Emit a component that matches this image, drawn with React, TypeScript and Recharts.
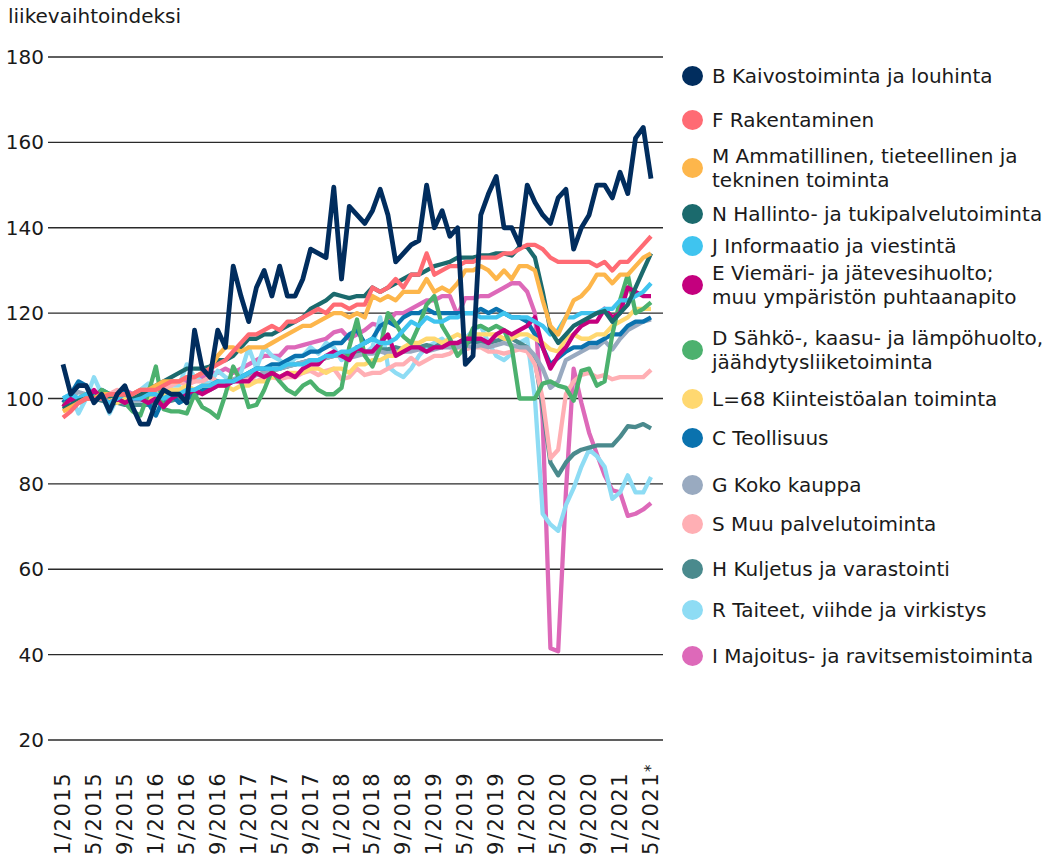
import { LineChart, Line, XAxis, YAxis, CartesianGrid } from "recharts";

const FONT = '"DejaVu Sans", sans-serif';

// month labels 1/2015 ... 5/2021
const MONTHS: string[] = [];
for (let y = 2015; y <= 2021; y++) {
  for (let m = 1; m <= 12; m++) {
    if (y === 2021 && m > 5) break;
    MONTHS.push(`${m}/${y}`);
  }
}

const Y_TICKS = [20, 40, 60, 80, 100, 120, 140, 160, 180];

// B Kaivostoiminta ja louhinta
const B = [108, 101, 103, 103, 99, 101, 97, 101, 103, 98, 94, 94, 99, 102, 101, 101, 99, 116, 107, 105, 116, 112, 131, 124, 118, 126, 130, 124, 131, 124, 124, 128, 135, 134, 133, 149.5, 128, 145, 143, 141, 144, 149, 143, 132, 134, 136, 137, 150, 140, 144, 138, 140, 108, 110, 143, 148, 152, 140, 140, 136, 150, 146, 143, 141, 147, 149, 135, 140, 143, 150, 150, 147, 153, 148, 161, 163.5, 151.5];
// F Rakentaminen
const F = [95.5, 97, 99, 100, 100, 100, 101, 101, 101, 101, 102, 102, 102, 103, 104, 104, 105, 105, 106, 107, 108, 109, 111, 113, 115, 115, 116, 117, 116, 118, 118, 119, 120, 121, 120, 122, 122, 121, 122, 122, 126, 125, 126, 128, 126, 129, 129, 134, 129, 130, 131, 131, 132, 132, 133, 133, 133, 134, 134, 135, 136, 136, 135, 133, 132, 132, 132, 132, 132, 131, 132, 130, 132, 132, 134, 136, 138];
// M Ammatillinen, tieteellinen ja tekninen toiminta
const M = [97, 98, 99, 100, 100, 101, 101, 101, 101, 101, 102, 102, 103, 104, 104, 104, 105, 105, 106, 107, 110, 112, 112, 111, 112, 112, 112, 113, 114, 115, 116, 117, 117, 118, 119, 120, 120, 119, 120, 119, 124, 123, 124, 123, 125, 125, 125, 128, 125, 126, 125, 127, 130, 130, 131, 130, 128, 130, 128, 131, 131, 130, 123, 117, 115, 119, 123, 124, 126, 129, 129, 127, 129, 129, 131, 133, 134];
// N Hallinto- ja tukipalvelutoiminta
const N = [97.5, 98.5, 99.5, 100, 100, 100.5, 100.5, 101, 101, 100.5, 101, 102, 103, 104, 105, 106, 107, 107, 107, 107.5, 109, 109, 110, 112, 114, 114, 115, 115, 116, 117, 118, 119, 121, 122, 123, 124.5, 124, 123.5, 124, 124, 126, 125, 126, 127, 128, 129, 129, 130, 131, 131.5, 132, 133, 133, 133, 133.5, 133.5, 134, 134, 133.5, 135.5, 135.5, 133, 125, 116, 113, 115, 117, 118, 119, 120, 120.5, 118, 120, 122, 126, 130, 134];
// J Informaatio ja viestintä
const J = [100, 101, 100, 101, 100, 100, 99, 100, 101, 100, 100, 101, 101, 100, 101, 101, 102, 102, 103, 103, 104, 104, 104, 105, 106, 107, 107, 107, 107, 108, 108, 108, 109, 109, 110, 110, 111, 111, 112, 113, 114, 113, 113, 114, 116, 118, 117, 119, 118, 118, 119, 119, 120, 120, 119, 119, 119, 120, 119, 119, 119, 118, 117, 115, 116, 119, 119, 120, 120, 120, 121, 121, 123, 123, 124, 125, 127];
// E Viemäri- ja jätevesihuolto
const E = [98, 100, 99, 100, 102, 100, 99, 100, 99, 100, 100, 99, 100, 98, 100, 101, 101, 102, 101, 102, 103, 103, 104, 104, 104, 106, 105, 106, 105, 106, 105, 107, 108, 108, 110, 111, 110, 109, 112, 111, 111, 113, 115, 110, 111, 112, 112, 111, 112, 112, 113, 113, 114, 114, 114, 113, 115, 116, 115, 116, 117, 119, 112, 107, 110, 112, 115, 117, 118, 118, 121, 119, 120, 126, 125, 124, 124];
// D Sähkö-, kaasu- ja lämpöhuolto
const D = [99, 98, 100, 101, 100, 102, 101, 100, 99, 97, 96, 101, 107.5, 97.5, 97, 97, 96.5, 101, 98, 97, 95.5, 101, 107.5, 104, 98, 98.5, 102, 106.5, 104, 102, 101, 103, 104, 102, 101, 101, 102.5, 112, 118.5, 110, 107.5, 112, 120, 117.5, 114.5, 113, 117, 122, 124, 117, 114, 110, 112, 116.5, 117, 116, 117, 116, 112, 100, 100, 100, 103.5, 104, 103, 102.5, 99.5, 106.5, 107, 103, 104, 115, 123, 129, 120, 121, 122.5];
// L=68 Kiinteistöalan toiminta
const L = [97, 98, 100, 101, 100, 101, 100, 99, 100, 101, 101, 100, 101, 101, 102, 102, 103, 102, 103, 103, 103, 103, 102, 103, 103, 104, 104, 105, 105, 106, 106, 106, 107, 107, 106, 107, 107, 106, 108, 108, 109, 109, 110, 110, 112, 113, 113, 114, 114, 113, 114, 115, 114, 115, 115, 115, 115, 114, 114, 115, 115, 114, 113, 111.5, 111, 114, 115, 114, 114, 115, 115, 117, 118, 119, 121, 121, 121];
// C Teollisuus
const C = [99, 101, 104, 103, 100, 102, 101, 99, 102, 100, 100, 99, 96, 100, 101, 99, 100, 101, 102, 103, 104, 103, 104, 105, 106, 107, 107, 108, 108, 109, 110, 110, 111, 111, 112, 113, 113, 115, 116, 113, 114, 117, 118, 117, 119, 120, 120, 121, 120, 120, 120, 120, 120, 120, 121, 120, 121, 120, 119, 119, 118, 115, 112, 108, 109.5, 111, 112, 112, 113, 113, 114, 115, 115, 117, 118, 118, 119];
// G Koko kauppa
const G = [99, 100.5, 101.5, 101, 100.5, 101, 100, 99.5, 99, 99.5, 99.5, 100, 100, 100, 100.5, 101, 101.5, 102, 103, 103, 103.5, 104, 104.5, 105, 105.5, 105.5, 106, 106.5, 107, 107.5, 108, 108.5, 109, 109, 109.5, 110, 110, 109.5, 110, 110.5, 110.5, 111, 110.5, 111, 111, 111, 111.5, 111, 111.5, 112, 112, 112, 112.5, 112, 112.5, 112, 112.5, 113, 112.5, 112, 112, 110, 107, 102.5, 104, 109, 110, 111, 112, 112, 113.5, 111.5, 114, 116, 117, 118, 118.5];
// S Muu palvelutoiminta
const S = [99, 98.5, 99, 100, 100, 100, 101, 102, 101, 101, 101, 102, 103, 102, 103, 104, 103, 104, 104, 105, 104, 103, 104, 105, 105, 104, 105, 105, 104.5, 105, 105, 106, 106.5, 105.5, 106.5, 107, 104.5, 105, 107, 105.5, 106, 106, 107, 108, 108, 109.5, 108, 109, 110, 110, 110.5, 112, 111.5, 112, 112, 111, 111, 110.5, 111, 111.5, 111, 108, 100, 86, 88, 101, 104, 105.5, 106, 105, 105.5, 104.5, 105, 105, 105, 105, 106.7];
// H Kuljetus ja varastointi
const H = [98, 99, 99, 100, 100, 99.5, 99, 99, 98.5, 98.5, 98.5, 98.5, 99, 99, 99.5, 100, 100.5, 101, 101.5, 102, 103, 103.5, 104, 104.5, 105, 105.5, 106, 106.5, 107, 107.5, 108, 108.5, 109, 109, 109.5, 110, 110, 110.5, 111, 111, 111, 111.5, 111.5, 112, 111.5, 112, 112, 112.5, 112, 113, 112.5, 113, 113, 113.5, 113, 113, 113.5, 114, 114, 113, 112, 109, 98, 85, 82, 85, 87, 88, 88.5, 89, 89, 89, 91, 93.5, 93.3, 94, 93];
// R Taiteet, viihde ja virkistys
const R = [100, 101, 96.5, 100, 105, 101, 96.5, 100, 100.5, 101, 102, 103.5, 101, 102, 103, 103, 108, 105, 104, 103.5, 106.5, 105, 104, 106, 112, 107, 112, 110, 109, 107.5, 109.5, 110, 112, 110.5, 113, 112, 109, 110, 112, 110.5, 112, 119, 107.5, 106, 105, 107, 110, 112, 113, 114, 112, 113, 114, 116, 117, 113, 110, 109, 110.5, 113, 114, 100, 73, 70.5, 69, 75, 79, 84, 88, 86.5, 84, 76.5, 78, 82, 78, 78, 81.6];
// I Majoitus- ja ravitsemistoiminta
const I = [99, 100, 100, 101, 101, 101, 100, 101, 102, 101, 102, 102, 102, 103, 103, 104, 104, 104, 105, 106, 106, 107, 106, 107, 108, 109, 110, 110, 110, 112, 112, 112.5, 113, 113.5, 114, 115.5, 116, 114, 115, 116, 117.5, 117, 118, 120, 120, 121, 122, 123, 123, 124, 124, 119.5, 123.5, 123.5, 124, 124, 125, 126, 127, 127, 125, 120, 95, 41.5, 40.8, 78, 107, 99, 92, 87, 82, 78.5, 78, 72.5, 73, 74, 75.5];

const SERIES = [
  { key: "B", lines: ["B Kaivostoiminta ja louhinta"], color: "#012d5e", values: B },
  { key: "F", lines: ["F Rakentaminen"], color: "#ff6b74", values: F },
  { key: "M", lines: ["M Ammatillinen, tieteellinen ja", "tekninen toiminta"], color: "#fdb64b", values: M },
  { key: "N", lines: ["N Hallinto- ja tukipalvelutoiminta"], color: "#1b6a6d", values: N },
  { key: "J", lines: ["J Informaatio ja viestintä"], color: "#3fc4ef", values: J },
  { key: "E", lines: ["E Viemäri- ja jätevesihuolto;", "muu ympäristön puhtaanapito"], color: "#c4007e", values: E },
  { key: "D", lines: ["D Sähkö-, kaasu- ja lämpöhuolto,", "jäähdytysliiketoiminta"], color: "#4cb16e", values: D },
  { key: "L", lines: ["L=68 Kiinteistöalan toiminta"], color: "#ffd870", values: L },
  { key: "C", lines: ["C Teollisuus"], color: "#0a72ae", values: C },
  { key: "G", lines: ["G Koko kauppa"], color: "#99aac0", values: G },
  { key: "S", lines: ["S Muu palvelutoiminta"], color: "#ffafb4", values: S },
  { key: "H", lines: ["H Kuljetus ja varastointi"], color: "#4a8a8d", values: H },
  { key: "R", lines: ["R Taiteet, viihde ja virkistys"], color: "#8edcf4", values: R },
  { key: "I", lines: ["I Majoitus- ja ravitsemistoiminta"], color: "#dd69b9", values: I },
];

// legend marker centres (px from top of page)
const LEGEND_Y = [76, 120, 168, 214, 246, 285, 350, 399, 438, 485, 524, 569, 610, 656];

const data = MONTHS.map((label, i) => {
  const row: Record<string, string | number> = { label };
  SERIES.forEach((s) => {
    row[s.key] = s.values[i];
  });
  return row;
});

function MonthTick({ x, y, payload }: any) {
  const star = payload.value === "5/2021";
  return (
    <g transform={`translate(${x},${y + 24}) rotate(-90)`}>
      <text
        textAnchor="end"
        dominantBaseline="central"
        fontSize={21}
        letterSpacing={1.5}
        fontFamily={FONT}
        fill="#1a1a1a"
      >
        {payload.value}
      </text>
      {star && (
        <text x={0} y={5} fontSize={15} fontFamily={FONT} fill="#1a1a1a">
          *
        </text>
      )}
    </g>
  );
}

export default function App() {
  return (
    <div
      style={{
        position: "absolute",
        left: 0,
        top: 0,
        width: 1060,
        height: 861,
        background: "#fff",
        fontFamily: FONT,
        color: "#1a1a1a",
      }}
    >
      {/* y axis title */}
      <div style={{ position: "absolute", left: 8, top: 4, fontSize: 20 }}>
        liikevaihtoindeksi
      </div>

      <LineChart
        width={1060}
        height={861}
        data={data}
        margin={{ top: 57, right: 397, bottom: 0, left: 0 }}
      >
        <CartesianGrid vertical={false} stroke="#2a2a2a" strokeWidth={1.4} />
        <XAxis
          dataKey="label"
          interval={3}
          padding={{ left: 15, right: 12 }}
          axisLine={false}
          tickLine={false}
          height={121}
          tick={<MonthTick />}
        />
        <YAxis
          domain={[20, 180]}
          ticks={Y_TICKS}
          interval={0}
          width={48}
          axisLine={false}
          tickLine={false}
          tickSize={4}
          tickMargin={0}
          tick={{ fill: "#1a1a1a", fontSize: 20, fontFamily: FONT }}
        />
        {[...SERIES].reverse().map((s) => (
          <Line
            key={s.key}
            dataKey={s.key}
            type="linear"
            stroke={s.color}
            strokeWidth={s.key === "B" ? 4.8 : 4.3}
            strokeLinejoin="round"
            dot={false}
            activeDot={false}
            isAnimationActive={false}
          />
        ))}
      </LineChart>

      {/* legend */}
      {SERIES.map((s, i) => (
        <div
          key={s.key}
          style={{
            position: "absolute",
            left: 682,
            top: LEGEND_Y[i] - 10,
            width: 21,
            height: 20,
            borderRadius: "50%",
            background: s.color,
          }}
        />
      ))}
      {SERIES.map((s, i) => (
        <div
          key={s.key + "-t"}
          style={{
            position: "absolute",
            left: 712,
            top: LEGEND_Y[i] - (s.lines.length * 24) / 2,
            fontSize: 20,
            lineHeight: "24px",
            whiteSpace: "nowrap",
          }}
        >
          {s.lines.map((t) => (
            <div key={t}>{t}</div>
          ))}
        </div>
      ))}
    </div>
  );
}
